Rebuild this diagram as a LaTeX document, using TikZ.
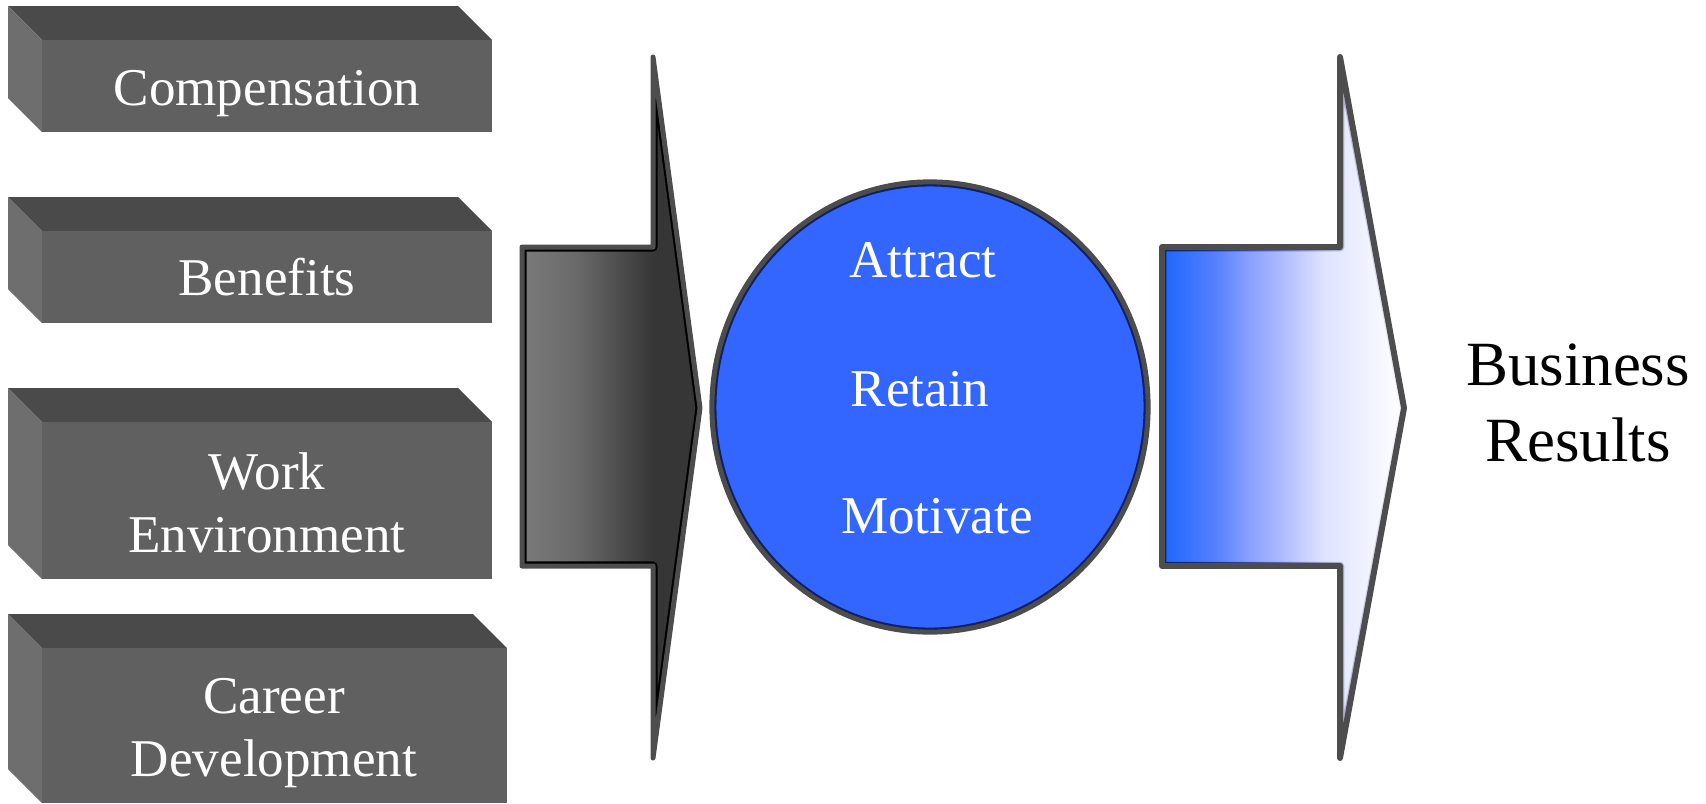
\documentclass[tikz,border=0pt]{standalone}
\usepackage{fontspec}
\usetikzlibrary{fadings}
\setmainfont{Liberation Serif}
\definecolor{frontc}{HTML}{606060}
\definecolor{topc}{HTML}{4A4A4A}
\definecolor{sidec}{HTML}{6E6E6E}
\definecolor{edgec}{HTML}{4D4D4D}
\definecolor{cfill}{HTML}{3366FF}
\definecolor{navy}{HTML}{102060}
\definecolor{ga}{HTML}{7A7A7A}
\definecolor{gb}{HTML}{6A6A6A}
\definecolor{gc}{HTML}{363636}
\definecolor{ba}{HTML}{1A66FF}
\definecolor{bb}{HTML}{5580FF}
\definecolor{bc}{HTML}{8AA0FF}
\definecolor{bd}{HTML}{B0BCFF}
\definecolor{be}{HTML}{DDE2FF}
\definecolor{bf}{HTML}{EEF0FF}
\pgfdeclarehorizontalshading{grayarr}{100bp}{color(0bp)=(ga); color(25bp)=(ga); color(40bp)=(gb); color(62bp)=(gc); color(100bp)=(gc)}
\pgfdeclarehorizontalshading{bluearr}{100bp}{color(0bp)=(ba); color(25bp)=(ba); color(36bp)=(bb); color(43bp)=(bc); color(50bp)=(bd); color(58bp)=(be); color(66bp)=(bf); color(75bp)=(white); color(100bp)=(white)}
\tikzfading[name=navyfade, left color=transparent!0, middle color=transparent!100, right color=transparent!100]
\newcommand\mkbox[4]{%
  \fill[topc] (#1-34,#2-34) -- (#3-34,#2-34) -- (#3,#2) -- (#1,#2) -- cycle;
  \fill[sidec] (#1-34,#2-34) -- (#1,#2) -- (#1,#4) -- (#1-34,#4-34) -- cycle;
  \fill[frontc] (#1,#2) rectangle (#3,#4);}
\begin{document}
\begin{tikzpicture}[x=0.01cm,y=-0.01cm,
  boxtext/.style={text=white, font=\fontsize{15.1}{18.1}\selectfont, align=center, inner sep=0pt},
  circtext/.style={text=white, font=\fontsize{15.1}{18.1}\selectfont, inner sep=0pt, anchor=base},
  restext/.style={text=black, font=\fontsize{17.9}{21.6}\selectfont, align=center, inner sep=0pt},
  edgeline/.style={draw=edgec, line width=1.42pt, line join=round}]
\useasboundingbox (0,0) rectangle (1706,803);
% boxes
\mkbox{42}{40}{492}{132}
\mkbox{42}{231}{492}{323}
\mkbox{42}{422}{492}{579}
\mkbox{42}{648}{507}{803}
\node[boxtext] (comp) at (267,94) {Compensation};
\node[boxtext] (ben) at (267,277) {Benefits};
\node[boxtext] (work) at (267,503) {Work\\Environment};
\node[boxtext] (car) at (274,733) {Career\\Development};
% left arrow
\shade[shading=grayarr] (522,247) -- (653,247) -- (653,57) -- (700,408) -- (653,758) -- (653,566) -- (522,566) -- cycle;
\begin{scope}
\clip (522,247) -- (653,247) -- (653,57) -- (700,408) -- (653,758) -- (653,566) -- (522,566) -- cycle;
\draw[black, line width=2.6pt, line join=round] (522,247) -- (653,247) -- (653,57) -- (700,408) -- (653,758) -- (653,566) -- (522,566) -- cycle;
\end{scope}
\draw[edgeline] (522,247) -- (653,247) -- (653,57) -- (700,408) -- (653,758) -- (653,566) -- (522,566) -- cycle;
% circle
\fill[cfill] (930,407) ellipse [x radius=2.18cm, y radius=2.25cm];
\begin{scope}
\clip (930,407) ellipse [x radius=2.18cm, y radius=2.25cm];
\draw[navy, line width=2.6pt] (930,407) ellipse [x radius=2.18cm, y radius=2.25cm];
\end{scope}
\draw[edgeline] (930,407) ellipse [x radius=2.18cm, y radius=2.25cm];
\node[circtext] (attract) at (923,277) {Attract};
\node[circtext] (retain) at (920,406) {Retain};
\node[circtext] (motivate) at (937,533) {Motivate};
% right arrow
\shade[shading=bluearr] (1162,247) -- (1340,247) -- (1340,57) -- (1404,408) -- (1340,758) -- (1340,566) -- (1162,566) -- cycle;
\begin{scope}
\clip (1162,247) -- (1340,247) -- (1340,57) -- (1404,408) -- (1340,758) -- (1340,566) -- (1162,566) -- cycle;
\draw[navy, line width=2.4pt, line join=round, path fading=navyfade] (1162,247) -- (1340,247) -- (1340,57) -- (1404,408) -- (1340,758) -- (1340,566) -- (1162,566) -- cycle;
\end{scope}
\draw[edgeline, line width=1.7pt] (1162,247) -- (1340,247) -- (1340,57) -- (1404,408) -- (1340,758) -- (1340,566) -- (1162,566) -- cycle;
\node[restext] (res) at (1578,403) {Business\\Results};
\end{tikzpicture}
\end{document}
